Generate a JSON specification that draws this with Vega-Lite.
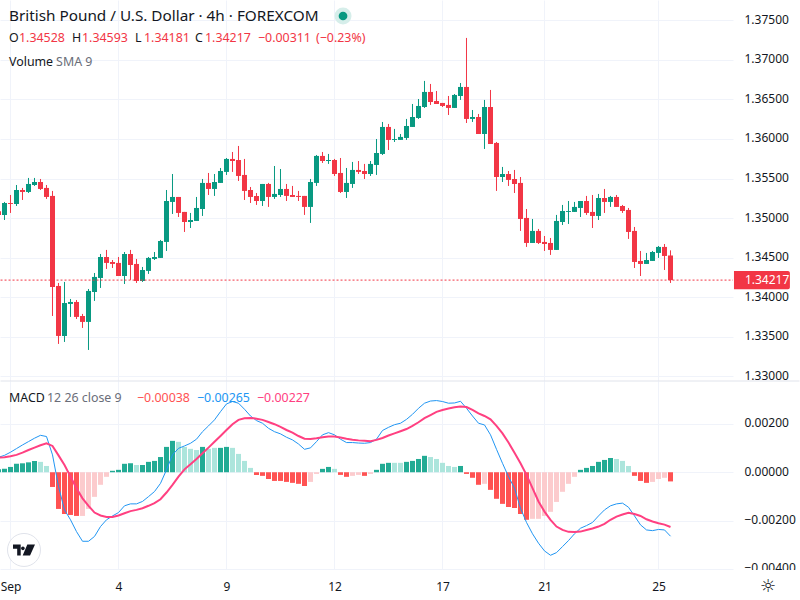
{
  "$schema": "https://vega.github.io/schema/vega-lite/v6.json",
  "background": "white",
  "padding": 0,
  "spacing": 0,
  "bounds": "flush",
  "config": {
    "view": {"stroke": null},
    "axis": {"labelFont": "Noto Sans", "labelFontSize": 12, "labelColor": "#131722", "gridColor": "#f0f3fa", "gridWidth": 1, "domain": false, "ticks": false, "title": null},
    "text": {"font": "Noto Sans"}
  },
  "datasets": {
    "bars": [
      {"i":-2,"o":1.35086,"h":1.35103,"l":1.35014,"c":1.35040,"macd":0.00062,"signal":0.00061,"hist":0.00012,"tone":"up"},
      {"i":-1,"o":1.35040,"h":1.35204,"l":1.34976,"c":1.35191,"macd":0.00070,"signal":0.00062,"hist":0.00014,"tone":"up"},
      {"i":0,"o":1.35191,"h":1.35292,"l":1.35065,"c":1.35179,"macd":0.00083,"signal":0.00066,"hist":0.00022,"tone":"up"},
      {"i":1,"o":1.35179,"h":1.35418,"l":1.35153,"c":1.35355,"macd":0.00098,"signal":0.00072,"hist":0.00035,"tone":"up"},
      {"i":2,"o":1.35355,"h":1.35381,"l":1.35229,"c":1.35330,"macd":0.00113,"signal":0.00081,"hist":0.00037,"tone":"up"},
      {"i":3,"o":1.35330,"h":1.35507,"l":1.35317,"c":1.35431,"macd":0.00127,"signal":0.00092,"hist":0.00041,"tone":"up"},
      {"i":4,"o":1.35418,"h":1.35507,"l":1.35406,"c":1.35456,"macd":0.00141,"signal":0.00102,"hist":0.00047,"tone":"up"},
      {"i":5,"o":1.35456,"h":1.35494,"l":1.35355,"c":1.35368,"macd":0.00153,"signal":0.00112,"hist":0.00043,"tone":"upfade"},
      {"i":6,"o":1.35381,"h":1.35418,"l":1.35242,"c":1.35267,"macd":0.00148,"signal":0.00120,"hist":0.00026,"tone":"upfade"},
      {"i":7,"o":1.35280,"h":1.35343,"l":1.33764,"c":1.34130,"macd":0.00072,"signal":0.00109,"hist":-0.00061,"tone":"down"},
      {"i":8,"o":1.34143,"h":1.34181,"l":1.33411,"c":1.33512,"macd":-0.00059,"signal":0.00070,"hist":-0.00152,"tone":"down"},
      {"i":9,"o":1.33512,"h":1.34194,"l":1.33436,"c":1.33928,"macd":-0.00156,"signal":0.00030,"hist":-0.00173,"tone":"down"},
      {"i":10,"o":1.33916,"h":1.33979,"l":1.33752,"c":1.33941,"macd":-0.00197,"signal":-0.00018,"hist":-0.00177,"tone":"down"},
      {"i":11,"o":1.33941,"h":1.33966,"l":1.33726,"c":1.33752,"macd":-0.00246,"signal":-0.00066,"hist":-0.00181,"tone":"down"},
      {"i":12,"o":1.33764,"h":1.33790,"l":1.33613,"c":1.33689,"macd":-0.00286,"signal":-0.00108,"hist":-0.00181,"tone":"downfade"},
      {"i":13,"o":1.33689,"h":1.34105,"l":1.33335,"c":1.34080,"macd":-0.00286,"signal":-0.00139,"hist":-0.00152,"tone":"downfade"},
      {"i":14,"o":1.34067,"h":1.34307,"l":1.33954,"c":1.34257,"macd":-0.00266,"signal":-0.00167,"hist":-0.00102,"tone":"downfade"},
      {"i":15,"o":1.34244,"h":1.34547,"l":1.34118,"c":1.34509,"macd":-0.00225,"signal":-0.00179,"hist":-0.00052,"tone":"downfade"},
      {"i":16,"o":1.34509,"h":1.34598,"l":1.34358,"c":1.34434,"macd":-0.00197,"signal":-0.00185,"hist":-0.00019,"tone":"downfade"},
      {"i":17,"o":1.34446,"h":1.34471,"l":1.34370,"c":1.34421,"macd":-0.00181,"signal":-0.00185,"hist":0.00006,"tone":"up"},
      {"i":18,"o":1.34434,"h":1.34509,"l":1.34269,"c":1.34269,"macd":-0.00167,"signal":-0.00179,"hist":0.00010,"tone":"up"},
      {"i":19,"o":1.34269,"h":1.34572,"l":1.34168,"c":1.34547,"macd":-0.00139,"signal":-0.00170,"hist":0.00035,"tone":"up"},
      {"i":20,"o":1.34547,"h":1.34598,"l":1.34219,"c":1.34408,"macd":-0.00131,"signal":-0.00161,"hist":0.00037,"tone":"up"},
      {"i":21,"o":1.34421,"h":1.34484,"l":1.34181,"c":1.34206,"macd":-0.00131,"signal":-0.00156,"hist":0.00030,"tone":"upfade"},
      {"i":22,"o":1.34206,"h":1.34383,"l":1.34194,"c":1.34345,"macd":-0.00121,"signal":-0.00149,"hist":0.00030,"tone":"up"},
      {"i":23,"o":1.34333,"h":1.34509,"l":1.34295,"c":1.34497,"macd":-0.00101,"signal":-0.00139,"hist":0.00043,"tone":"up"},
      {"i":24,"o":1.34484,"h":1.34572,"l":1.34471,"c":1.34509,"macd":-0.00080,"signal":-0.00128,"hist":0.00047,"tone":"up"},
      {"i":25,"o":1.34497,"h":1.34724,"l":1.34497,"c":1.34711,"macd":-0.00046,"signal":-0.00112,"hist":0.00063,"tone":"up"},
      {"i":26,"o":1.34699,"h":1.35355,"l":1.34585,"c":1.35216,"macd":0.00010,"signal":-0.00084,"hist":0.00105,"tone":"up"},
      {"i":27,"o":1.35204,"h":1.35557,"l":1.35052,"c":1.35267,"macd":0.00072,"signal":-0.00052,"hist":0.00130,"tone":"up"},
      {"i":28,"o":1.35267,"h":1.35267,"l":1.35014,"c":1.35065,"macd":0.00099,"signal":-0.00018,"hist":0.00126,"tone":"upfade"},
      {"i":29,"o":1.35078,"h":1.35078,"l":1.34825,"c":1.34951,"macd":0.00109,"signal":0.00012,"hist":0.00105,"tone":"upfade"},
      {"i":30,"o":1.34951,"h":1.35065,"l":1.34875,"c":1.34976,"macd":0.00120,"signal":0.00033,"hist":0.00097,"tone":"upfade"},
      {"i":31,"o":1.34964,"h":1.35267,"l":1.34964,"c":1.35128,"macd":0.00137,"signal":0.00055,"hist":0.00092,"tone":"upfade"},
      {"i":32,"o":1.35115,"h":1.35494,"l":1.35027,"c":1.35444,"macd":0.00168,"signal":0.00079,"hist":0.00105,"tone":"up"},
      {"i":33,"o":1.35444,"h":1.35570,"l":1.35292,"c":1.35368,"macd":0.00192,"signal":0.00102,"hist":0.00097,"tone":"upfade"},
      {"i":34,"o":1.35368,"h":1.35557,"l":1.35280,"c":1.35456,"macd":0.00217,"signal":0.00126,"hist":0.00101,"tone":"upfade"},
      {"i":35,"o":1.35444,"h":1.35633,"l":1.35444,"c":1.35595,"macd":0.00251,"signal":0.00150,"hist":0.00101,"tone":"up"},
      {"i":36,"o":1.35583,"h":1.35759,"l":1.35545,"c":1.35747,"macd":0.00283,"signal":0.00175,"hist":0.00105,"tone":"up"},
      {"i":37,"o":1.35747,"h":1.35835,"l":1.35583,"c":1.35721,"macd":0.00293,"signal":0.00199,"hist":0.00101,"tone":"upfade"},
      {"i":38,"o":1.35734,"h":1.35911,"l":1.35469,"c":1.35532,"macd":0.00286,"signal":0.00217,"hist":0.00076,"tone":"upfade"},
      {"i":39,"o":1.35545,"h":1.35747,"l":1.35229,"c":1.35343,"macd":0.00261,"signal":0.00224,"hist":0.00047,"tone":"upfade"},
      {"i":40,"o":1.35355,"h":1.35393,"l":1.35191,"c":1.35267,"macd":0.00233,"signal":0.00225,"hist":0.00018,"tone":"upfade"},
      {"i":41,"o":1.35280,"h":1.35317,"l":1.35166,"c":1.35216,"macd":0.00214,"signal":0.00222,"hist":-0.00011,"tone":"down"},
      {"i":42,"o":1.35216,"h":1.35431,"l":1.35153,"c":1.35431,"macd":0.00203,"signal":0.00217,"hist":-0.00015,"tone":"down"},
      {"i":43,"o":1.35431,"h":1.35444,"l":1.35141,"c":1.35267,"macd":0.00182,"signal":0.00208,"hist":-0.00028,"tone":"down"},
      {"i":44,"o":1.35267,"h":1.35658,"l":1.35242,"c":1.35305,"macd":0.00168,"signal":0.00199,"hist":-0.00036,"tone":"down"},
      {"i":45,"o":1.35292,"h":1.35620,"l":1.35267,"c":1.35368,"macd":0.00159,"signal":0.00188,"hist":-0.00036,"tone":"down"},
      {"i":46,"o":1.35368,"h":1.35431,"l":1.35216,"c":1.35280,"macd":0.00145,"signal":0.00175,"hist":-0.00040,"tone":"down"},
      {"i":47,"o":1.35292,"h":1.35406,"l":1.35267,"c":1.35267,"macd":0.00134,"signal":0.00164,"hist":-0.00044,"tone":"down"},
      {"i":48,"o":1.35280,"h":1.35343,"l":1.35216,"c":1.35267,"macd":0.00117,"signal":0.00150,"hist":-0.00048,"tone":"down"},
      {"i":49,"o":1.35280,"h":1.35280,"l":1.35040,"c":1.35141,"macd":0.00095,"signal":0.00139,"hist":-0.00057,"tone":"down"},
      {"i":50,"o":1.35141,"h":1.35494,"l":1.34939,"c":1.35456,"macd":0.00101,"signal":0.00138,"hist":-0.00040,"tone":"downfade"},
      {"i":51,"o":1.35444,"h":1.35797,"l":1.35406,"c":1.35785,"macd":0.00127,"signal":0.00141,"hist":-0.00007,"tone":"downfade"},
      {"i":52,"o":1.35785,"h":1.35835,"l":1.35696,"c":1.35721,"macd":0.00155,"signal":0.00145,"hist":0.00014,"tone":"up"},
      {"i":53,"o":1.35721,"h":1.35810,"l":1.35684,"c":1.35734,"macd":0.00164,"signal":0.00148,"hist":0.00022,"tone":"up"},
      {"i":54,"o":1.35734,"h":1.35747,"l":1.35532,"c":1.35557,"macd":0.00155,"signal":0.00148,"hist":0.00014,"tone":"upfade"},
      {"i":55,"o":1.35570,"h":1.35759,"l":1.35317,"c":1.35330,"macd":0.00137,"signal":0.00144,"hist":-0.00011,"tone":"down"},
      {"i":56,"o":1.35330,"h":1.35633,"l":1.35254,"c":1.35444,"macd":0.00123,"signal":0.00139,"hist":-0.00019,"tone":"down"},
      {"i":57,"o":1.35431,"h":1.35709,"l":1.35381,"c":1.35608,"macd":0.00123,"signal":0.00135,"hist":-0.00015,"tone":"downfade"},
      {"i":58,"o":1.35608,"h":1.35721,"l":1.35557,"c":1.35583,"macd":0.00121,"signal":0.00132,"hist":-0.00011,"tone":"downfade"},
      {"i":59,"o":1.35595,"h":1.35684,"l":1.35494,"c":1.35557,"macd":0.00120,"signal":0.00130,"hist":-0.00015,"tone":"down"},
      {"i":60,"o":1.35557,"h":1.35721,"l":1.35532,"c":1.35684,"macd":0.00123,"signal":0.00128,"hist":-0.00007,"tone":"downfade"},
      {"i":61,"o":1.35671,"h":1.35999,"l":1.35545,"c":1.35822,"macd":0.00137,"signal":0.00134,"hist":0.00010,"tone":"up"},
      {"i":62,"o":1.35810,"h":1.36214,"l":1.35797,"c":1.36151,"macd":0.00173,"signal":0.00142,"hist":0.00035,"tone":"up"},
      {"i":63,"o":1.36151,"h":1.36189,"l":1.35860,"c":1.35987,"macd":0.00186,"signal":0.00152,"hist":0.00039,"tone":"up"},
      {"i":64,"o":1.35987,"h":1.36126,"l":1.35961,"c":1.35999,"macd":0.00197,"signal":0.00161,"hist":0.00039,"tone":"upfade"},
      {"i":65,"o":1.35987,"h":1.36062,"l":1.35987,"c":1.36025,"macd":0.00203,"signal":0.00170,"hist":0.00039,"tone":"upfade"},
      {"i":66,"o":1.36012,"h":1.36252,"l":1.35987,"c":1.36163,"macd":0.00219,"signal":0.00179,"hist":0.00043,"tone":"up"},
      {"i":67,"o":1.36151,"h":1.36441,"l":1.36151,"c":1.36277,"macd":0.00240,"signal":0.00192,"hist":0.00047,"tone":"up"},
      {"i":68,"o":1.36264,"h":1.36504,"l":1.36252,"c":1.36416,"macd":0.00265,"signal":0.00207,"hist":0.00055,"tone":"up"},
      {"i":69,"o":1.36403,"h":1.36732,"l":1.36391,"c":1.36593,"macd":0.00286,"signal":0.00224,"hist":0.00068,"tone":"up"},
      {"i":70,"o":1.36593,"h":1.36694,"l":1.36429,"c":1.36466,"macd":0.00295,"signal":0.00237,"hist":0.00063,"tone":"upfade"},
      {"i":71,"o":1.36479,"h":1.36605,"l":1.36441,"c":1.36441,"macd":0.00297,"signal":0.00250,"hist":0.00055,"tone":"upfade"},
      {"i":72,"o":1.36454,"h":1.36454,"l":1.36403,"c":1.36416,"macd":0.00293,"signal":0.00258,"hist":0.00039,"tone":"upfade"},
      {"i":73,"o":1.36429,"h":1.36542,"l":1.36302,"c":1.36391,"macd":0.00286,"signal":0.00264,"hist":0.00026,"tone":"upfade"},
      {"i":74,"o":1.36391,"h":1.36567,"l":1.36391,"c":1.36555,"macd":0.00287,"signal":0.00269,"hist":0.00022,"tone":"upfade"},
      {"i":75,"o":1.36542,"h":1.36706,"l":1.36492,"c":1.36656,"macd":0.00294,"signal":0.00272,"hist":0.00026,"tone":"up"},
      {"i":76,"o":1.36656,"h":1.37275,"l":1.36201,"c":1.36252,"macd":0.00265,"signal":0.00270,"hist":-0.00007,"tone":"down"},
      {"i":77,"o":1.36252,"h":1.36365,"l":1.36214,"c":1.36277,"macd":0.00233,"signal":0.00258,"hist":-0.00023,"tone":"down"},
      {"i":78,"o":1.36277,"h":1.36315,"l":1.36062,"c":1.36062,"macd":0.00203,"signal":0.00244,"hist":-0.00052,"tone":"down"},
      {"i":79,"o":1.36062,"h":1.36492,"l":1.35873,"c":1.36403,"macd":0.00196,"signal":0.00233,"hist":-0.00048,"tone":"downfade"},
      {"i":80,"o":1.36403,"h":1.36618,"l":1.35936,"c":1.35936,"macd":0.00155,"signal":0.00219,"hist":-0.00073,"tone":"down"},
      {"i":81,"o":1.35949,"h":1.35961,"l":1.35343,"c":1.35519,"macd":0.00095,"signal":0.00192,"hist":-0.00110,"tone":"down"},
      {"i":82,"o":1.35519,"h":1.35646,"l":1.35456,"c":1.35557,"macd":0.00037,"signal":0.00161,"hist":-0.00131,"tone":"down"},
      {"i":83,"o":1.35557,"h":1.35595,"l":1.35406,"c":1.35482,"macd":-0.00018,"signal":0.00123,"hist":-0.00144,"tone":"down"},
      {"i":84,"o":1.35494,"h":1.35608,"l":1.35317,"c":1.35431,"macd":-0.00066,"signal":0.00081,"hist":-0.00148,"tone":"down"},
      {"i":85,"o":1.35444,"h":1.35519,"l":1.34838,"c":1.34989,"macd":-0.00149,"signal":0.00037,"hist":-0.00173,"tone":"down"},
      {"i":86,"o":1.35002,"h":1.35115,"l":1.34636,"c":1.34686,"macd":-0.00208,"signal":-0.00011,"hist":-0.00197,"tone":"down"},
      {"i":87,"o":1.34686,"h":1.34989,"l":1.34686,"c":1.34838,"macd":-0.00255,"signal":-0.00066,"hist":-0.00193,"tone":"downfade"},
      {"i":88,"o":1.34838,"h":1.34863,"l":1.34673,"c":1.34686,"macd":-0.00294,"signal":-0.00121,"hist":-0.00193,"tone":"downfade"},
      {"i":89,"o":1.34699,"h":1.34774,"l":1.34585,"c":1.34673,"macd":-0.00326,"signal":-0.00163,"hist":-0.00181,"tone":"downfade"},
      {"i":90,"o":1.34686,"h":1.34749,"l":1.34535,"c":1.34598,"macd":-0.00344,"signal":-0.00197,"hist":-0.00164,"tone":"downfade"},
      {"i":91,"o":1.34598,"h":1.35040,"l":1.34598,"c":1.34964,"macd":-0.00333,"signal":-0.00225,"hist":-0.00123,"tone":"downfade"},
      {"i":92,"o":1.34951,"h":1.35166,"l":1.34913,"c":1.35090,"macd":-0.00308,"signal":-0.00239,"hist":-0.00081,"tone":"downfade"},
      {"i":93,"o":1.35078,"h":1.35216,"l":1.34926,"c":1.35090,"macd":-0.00283,"signal":-0.00247,"hist":-0.00048,"tone":"downfade"},
      {"i":94,"o":1.35078,"h":1.35204,"l":1.35078,"c":1.35141,"macd":-0.00255,"signal":-0.00248,"hist":-0.00019,"tone":"downfade"},
      {"i":95,"o":1.35128,"h":1.35216,"l":1.35014,"c":1.35216,"macd":-0.00232,"signal":-0.00246,"hist":0.00010,"tone":"up"},
      {"i":96,"o":1.35216,"h":1.35280,"l":1.35040,"c":1.35065,"macd":-0.00221,"signal":-0.00239,"hist":0.00018,"tone":"up"},
      {"i":97,"o":1.35078,"h":1.35292,"l":1.34875,"c":1.35027,"macd":-0.00208,"signal":-0.00233,"hist":0.00026,"tone":"up"},
      {"i":98,"o":1.35027,"h":1.35305,"l":1.34976,"c":1.35254,"macd":-0.00181,"signal":-0.00225,"hist":0.00043,"tone":"up"},
      {"i":99,"o":1.35254,"h":1.35368,"l":1.35065,"c":1.35204,"macd":-0.00156,"signal":-0.00214,"hist":0.00051,"tone":"up"},
      {"i":100,"o":1.35204,"h":1.35280,"l":1.35141,"c":1.35267,"macd":-0.00139,"signal":-0.00197,"hist":0.00059,"tone":"up"},
      {"i":101,"o":1.35267,"h":1.35292,"l":1.35141,"c":1.35141,"macd":-0.00131,"signal":-0.00184,"hist":0.00055,"tone":"upfade"},
      {"i":102,"o":1.35153,"h":1.35166,"l":1.35065,"c":1.35090,"macd":-0.00128,"signal":-0.00175,"hist":0.00047,"tone":"upfade"},
      {"i":103,"o":1.35103,"h":1.35128,"l":1.34737,"c":1.34825,"macd":-0.00145,"signal":-0.00168,"hist":0.00026,"tone":"upfade"},
      {"i":104,"o":1.34838,"h":1.34888,"l":1.34370,"c":1.34446,"macd":-0.00181,"signal":-0.00173,"hist":-0.00015,"tone":"down"},
      {"i":105,"o":1.34459,"h":1.34585,"l":1.34269,"c":1.34421,"macd":-0.00218,"signal":-0.00181,"hist":-0.00036,"tone":"down"},
      {"i":106,"o":1.34421,"h":1.34560,"l":1.34421,"c":1.34471,"macd":-0.00239,"signal":-0.00195,"hist":-0.00044,"tone":"down"},
      {"i":107,"o":1.34459,"h":1.34585,"l":1.34459,"c":1.34572,"macd":-0.00242,"signal":-0.00204,"hist":-0.00040,"tone":"downfade"},
      {"i":108,"o":1.34560,"h":1.34648,"l":1.34497,"c":1.34636,"macd":-0.00237,"signal":-0.00211,"hist":-0.00028,"tone":"downfade"},
      {"i":109,"o":1.34636,"h":1.34673,"l":1.34345,"c":1.34522,"macd":-0.00239,"signal":-0.00217,"hist":-0.00023,"tone":"downfade"},
      {"i":110,"o":1.34528,"h":1.34593,"l":1.34181,"c":1.34217,"macd":-0.00265,"signal":-0.00227,"hist":-0.00038,"tone":"down"}
    ]
  },
  "vconcat": [
    {
      "width": 733,
      "height": 381,
      "encoding": {
        "x": {"field": "i", "type": "quantitative", "scale": {"domain": [-1.75, 120.4167], "nice": false, "zero": false, "padding": 0},
          "axis": {"values": [0, 18, 36, 54, 72, 89, 108], "grid": true, "labels": false}}
      },
      "layer": [
        {
          "data": {"name": "bars"},
          "mark": {"type": "rule", "clip": true, "strokeWidth": 1},
          "encoding": {
            "y": {"field": "l", "type": "quantitative", "scale": {"domain": [1.32943, 1.37754], "nice": false, "zero": false},
              "axis": {"orient": "right", "values": [1.33, 1.335, 1.34, 1.345, 1.35, 1.355, 1.36, 1.365, 1.37, 1.375], "format": ".5f", "grid": true, "labelPadding": 11, "labelAlign": "left", "labelOverlap": false, "labelBound": false, "labelOffset": -1}},
            "y2": {"field": "h"},
            "color": {"condition": {"test": "datum.c >= datum.o", "value": "#089981"}, "value": "#f23645"}
          }
        },
        {
          "data": {"name": "bars"},
          "mark": {"type": "bar", "clip": true, "size": 5, "orient": "vertical"},
          "encoding": {
            "y": {"field": "o", "type": "quantitative", "stack": null},
            "y2": {"field": "c"},
            "color": {"condition": {"test": "datum.c >= datum.o", "value": "#089981"}, "value": "#f23645"}
          }
        },
        {
          "data": {"values": [{"i": -1.66, "i2": 120.4167, "price": 1.34217}]},
          "mark": {"type": "rule", "color": "#f23645", "strokeWidth": 1, "strokeDash": [2, 2]},
          "encoding": {"x2": {"field": "i2"}, "y": {"field": "price", "type": "quantitative"}}
        },
        {
          "data": {"values": [{"i": 120.58, "i2": 129.9, "top": 1.34331, "bottom": 1.34103}]},
          "mark": {"type": "rect", "color": "#f23645", "cornerRadiusTopRight": 2, "cornerRadiusBottomRight": 2},
          "encoding": {"x2": {"field": "i2"}, "y": {"field": "top", "type": "quantitative"}, "y2": {"field": "bottom"}}
        },
        {
          "data": {"values": [{"i": 122.4, "price": 1.34217, "label": "1.34217"}]},
          "mark": {"type": "text", "align": "left", "baseline": "middle", "fontSize": 12, "color": "white"},
          "encoding": {"y": {"field": "price", "type": "quantitative"}, "text": {"field": "label"}}
        },
        {
          "data": {"values": [{"i": -0.25, "price": 1.37552, "label": "British Pound / U.S. Dollar · 4h · FOREXCOM"}]},
          "mark": {"type": "text", "align": "left", "baseline": "middle", "fontSize": 15.3, "color": "#131722"},
          "encoding": {"y": {"field": "price", "type": "quantitative"}, "text": {"field": "label"}}
        },
        {
          "data": {"values": [
            {"i": -0.25, "price": 1.37274, "label": "O", "tone": "ink"},
            {"i": 1.42, "price": 1.37274, "label": "1.34528", "tone": "loss"},
            {"i": 10.25, "price": 1.37274, "label": "H", "tone": "ink"},
            {"i": 11.92, "price": 1.37274, "label": "1.34593", "tone": "loss"},
            {"i": 20.75, "price": 1.37274, "label": "L", "tone": "ink"},
            {"i": 22.25, "price": 1.37274, "label": "1.34181", "tone": "loss"},
            {"i": 30.75, "price": 1.37274, "label": "C", "tone": "ink"},
            {"i": 32.42, "price": 1.37274, "label": "1.34217", "tone": "loss"},
            {"i": 41.25, "price": 1.37274, "label": "−0.00311", "tone": "loss"},
            {"i": 50.92, "price": 1.37274, "label": "(−0.23%)", "tone": "loss"},
            {"i": -0.25, "price": 1.36971, "label": "Volume", "tone": "ink"},
            {"i": 7.6, "price": 1.36971, "label": "SMA 9", "tone": "grey"}
          ]},
          "mark": {"type": "text", "align": "left", "baseline": "middle", "fontSize": 12.4},
          "encoding": {
            "y": {"field": "price", "type": "quantitative"},
            "text": {"field": "label"},
            "color": {"field": "tone", "type": "nominal", "legend": null, "scale": {"domain": ["up", "upfade", "down", "downfade", "ink", "grey", "loss", "macdline", "signalline"], "range": ["#22ab94", "#ace5dc", "#ff5252", "#fccbcd", "#131722", "#6a6d78", "#f23645", "#2196f3", "#ff4081"]}}
          }
        },
        {
          "data": {"values": [{"i": 55.42, "price": 1.37552}]},
          "mark": {"type": "point", "filled": true, "opacity": 1, "size": 289, "color": "#d6eeea", "shape": "circle"},
          "encoding": {"y": {"field": "price", "type": "quantitative"}}
        },
        {
          "data": {"values": [{"i": 55.42, "price": 1.37552}]},
          "mark": {"type": "point", "filled": true, "opacity": 1, "size": 76, "color": "#089981", "shape": "circle"},
          "encoding": {"y": {"field": "price", "type": "quantitative"}}
        }
      ]
    },
    {
      "width": 733,
      "height": 189,
      "encoding": {
        "x": {"field": "i", "type": "quantitative", "scale": {"domain": [-1.75, 120.4167], "nice": false, "zero": false, "padding": 0},
          "axis": {"values": [0, 18, 36, 54, 72, 89, 108], "grid": true, "labels": false}}
      },
      "layer": [
        {
          "data": {"name": "bars"},
          "mark": {"type": "bar", "clip": true, "size": 5, "orient": "vertical"},
          "encoding": {
            "y": {"field": "hist", "type": "quantitative", "stack": null, "scale": {"domain": [-0.00405, 0.00378], "nice": false, "zero": false},
              "axis": {"orient": "right", "values": [-0.004, -0.002, 0, 0.002], "format": ".5f", "grid": true, "labelPadding": 11, "labelAlign": "left", "labelOverlap": false, "labelBound": false, "labelOffset": -1}},
            "color": {"field": "tone", "type": "nominal", "legend": null, "scale": {"domain": ["up", "upfade", "down", "downfade", "ink", "grey", "loss", "macdline", "signalline"], "range": ["#22ab94", "#ace5dc", "#ff5252", "#fccbcd", "#131722", "#6a6d78", "#f23645", "#2196f3", "#ff4081"]}}
          }
        },
        {
          "data": {"name": "bars"},
          "mark": {"type": "line", "clip": true, "color": "#2196f3", "strokeWidth": 1},
          "encoding": {"y": {"field": "macd", "type": "quantitative"}}
        },
        {
          "data": {"name": "bars"},
          "mark": {"type": "line", "clip": true, "color": "#ff4081", "strokeWidth": 2},
          "encoding": {"y": {"field": "signal", "type": "quantitative"}}
        },
        {
          "data": {"values": [{"i": -1.66, "i2": 131.5, "v": 0.00378}]},
          "mark": {"type": "rule", "color": "#e0e3eb", "strokeWidth": 1},
          "encoding": {"x2": {"field": "i2"}, "y": {"field": "v", "type": "quantitative"}}
        },
        {
          "data": {"values": [
            {"i": -0.25, "v": 0.00308, "label": "MACD", "tone": "ink"},
            {"i": 6.08, "v": 0.00308, "label": "12 26 close 9", "tone": "grey"},
            {"i": 21.08, "v": 0.00308, "label": "−0.00038", "tone": "down"},
            {"i": 31.08, "v": 0.00308, "label": "−0.00265", "tone": "macdline"},
            {"i": 41.08, "v": 0.00308, "label": "−0.00227", "tone": "signalline"}
          ]},
          "mark": {"type": "text", "align": "left", "baseline": "middle", "fontSize": 12.4},
          "encoding": {
            "y": {"field": "v", "type": "quantitative"},
            "text": {"field": "label"},
            "color": {"field": "tone", "type": "nominal", "legend": null, "scale": {"domain": ["up", "upfade", "down", "downfade", "ink", "grey", "loss", "macdline", "signalline"], "range": ["#22ab94", "#ace5dc", "#ff5252", "#fccbcd", "#131722", "#6a6d78", "#f23645", "#2196f3", "#ff4081"]}}
          }
        },
        {
          "data": {"values": [{"i": 2.25, "v": -0.00322}]},
          "mark": {"type": "point", "filled": true, "opacity": 1, "size": 1089, "shape": "circle", "fill": "white", "stroke": "#e0e3eb", "strokeWidth": 1},
          "encoding": {"y": {"field": "v", "type": "quantitative"}}
        },
        {
          "data": {"values": [{"i": 2.25, "v": -0.00322}]},
          "mark": {"type": "point", "filled": true, "opacity": 1, "size": 484, "color": "#131722", "shape": "M-1 -.5H-.3V.5H-.62V-.12H-1ZM-.1 -.32a.17 .17 0 1 0 .001 0ZM.3 -.5H1L.55 .5H-.12Z"},
          "encoding": {"y": {"field": "v", "type": "quantitative"}}
        }
      ]
    },
    {
      "width": 800,
      "height": 30,
      "view": {"fill": "white", "stroke": null},
      "data": {"values": [{"i": 126.2, "v": -0.15, "label": "☼"}]},
      "mark": {"type": "text", "font": "DejaVu Sans", "fontSize": 18, "color": "#131722", "baseline": "middle"},
      "encoding": {
        "x": {"field": "i", "type": "quantitative", "scale": {"domain": [-1.75, 131.58], "nice": false, "zero": false},
          "axis": {"orient": "bottom", "values": [0, 18, 36, 54, 72, 89, 108], "grid": false, "offset": -14, "labelPadding": 0, "labelBaseline": "middle", "labelExpr": "{'0':'Sep','18':'4','36':'9','54':'12','72':'17','89':'21','108':'25'}[datum.value]"}},
        "y": {"field": "v", "type": "quantitative", "scale": {"domain": [-1, 1]}, "axis": null},
        "text": {"field": "label"}
      }
    }
  ]
}
